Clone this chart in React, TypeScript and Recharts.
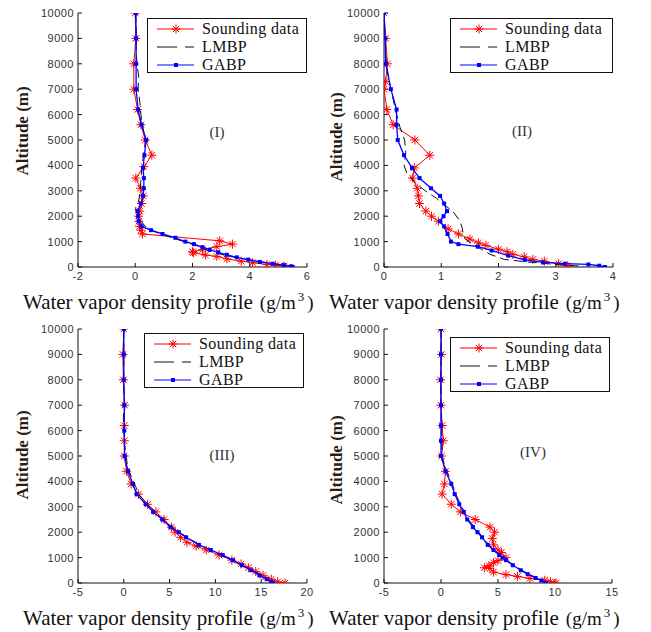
import { ScatterChart, Scatter, XAxis, YAxis, Legend } from "recharts";

// [altitude (m), water vapor density (g/m3)]
type Pt = [number, number];

const ALT_TICKS = [0, 1000, 2000, 3000, 4000, 5000, 6000, 7000, 8000, 9000, 10000];
const X_TICKS_I = [-2, 0, 2, 4, 6];
const X_TICKS_II = [0, 1, 2, 3, 4];
const X_TICKS_III = [-5, 0, 5, 10, 15, 20];
const X_TICKS_IV = [-5, 0, 5, 10, 15];

const SERIES_NAMES = ["Sounding data", "LMBP", "GABP"];
const PANEL_TAGS = ["(I)", "(II)", "(III)", "(IV)"];

const sounding1: Pt[] = [
  [10000, 0], [9000, 0.02], [8000, -0.05], [7000, -0.05], [6200, 0.08], [5600, 0.2],
  [5000, 0.35], [4400, 0.58], [3950, 0.3], [3500, 0.02], [3100, 0.18], [2800, 0.28],
  [2500, 0.22], [2200, 0.16], [2000, 0.12], [1800, 0.13], [1600, 0.15], [1450, 0.2],
  [1300, 0.25], [1030, 2.95], [900, 3.4], [800, 2.85], [680, 2.35], [600, 2.0],
  [560, 2.03], [470, 2.45], [420, 2.85], [320, 3.2], [230, 3.7], [170, 4.1],
  [100, 4.6], [70, 4.9], [40, 5.2], [0, 5.15],
];
const lmbp1: Pt[] = [
  [10000, 0.02], [9000, 0.04], [8500, 0.03], [8000, 0.06], [7500, 0.12], [7000, 0.1],
  [6500, 0.16], [6000, 0.2], [5500, 0.26], [5000, 0.36], [4500, 0.3], [4000, 0.24],
  [3500, 0.2], [3000, 0.18], [2600, 0.12], [2300, 0.0], [2100, 0.08], [1800, 0.2],
  [1600, 0.35], [1400, 0.65], [1200, 1.15], [1000, 1.7], [800, 2.25], [650, 2.5],
  [500, 3.0], [350, 3.6], [200, 4.4], [100, 5.0], [30, 5.6], [0, 5.7],
];
const gabp1: Pt[] = [
  [10000, 0.02], [9000, 0.03], [8000, 0.03], [7000, 0.03], [6200, 0.1], [5600, 0.22],
  [5000, 0.38], [4400, 0.32], [3900, 0.27], [3500, 0.3], [3100, 0.3], [2800, 0.27],
  [2500, 0.2], [2200, 0.08], [2000, 0.1], [1800, 0.12], [1600, 0.22], [1450, 0.55],
  [1300, 0.95], [1150, 1.4], [1000, 1.75], [900, 2.05], [780, 2.35], [680, 2.6],
  [580, 2.9], [480, 3.2], [380, 3.55], [290, 3.95], [200, 4.35], [130, 4.8],
  [70, 5.2], [30, 5.45], [0, 5.5],
];

const sounding2: Pt[] = [
  [10000, 0], [9000, 0.03], [8000, 0.06], [7300, 0.03], [7000, 0], [6200, 0.05],
  [5600, 0.16], [5000, 0.54], [4400, 0.8], [3900, 0.53], [3500, 0.5], [3100, 0.58],
  [2800, 0.6], [2500, 0.62], [2200, 0.73], [2000, 0.83], [1800, 0.95], [1500, 1.12],
  [1300, 1.3], [1100, 1.5], [950, 1.65], [850, 1.78], [700, 2.0], [600, 2.15],
  [500, 2.25], [400, 2.45], [300, 2.6], [230, 2.8], [130, 3.05], [50, 3.2], [0, 3.22],
];
const lmbp2: Pt[] = [
  [10000, 0], [9000, 0.02], [8000, 0.04], [7000, 0.12], [6500, 0.17], [6000, 0.22],
  [5500, 0.28], [5000, 0.36], [4500, 0.38], [4000, 0.35], [3700, 0.4], [3300, 0.55],
  [3000, 0.72], [2700, 0.92], [2400, 1.08], [2200, 1.2], [1800, 1.33], [1500, 1.37],
  [1300, 1.38], [1100, 1.42], [900, 1.55], [700, 1.7], [500, 1.85], [300, 2.1],
  [200, 2.5], [100, 3.0], [40, 3.4], [0, 3.5],
];
const gabp2: Pt[] = [
  [10000, 0], [9000, 0.02], [8000, 0.03], [7000, 0.12], [6200, 0.22], [5600, 0.22],
  [5000, 0.24], [4400, 0.35], [3900, 0.49], [3500, 0.62], [3100, 0.82], [2800, 0.98],
  [2500, 1.05], [2200, 1.1], [2000, 1.04], [1800, 0.98], [1600, 1.05], [1300, 1.11],
  [1000, 1.17], [900, 1.3], [800, 1.64], [650, 1.88], [450, 2.17], [280, 2.46],
  [180, 2.78], [130, 3.16], [100, 3.57], [50, 3.76], [0, 3.86],
];

const sounding3: Pt[] = [
  [10000, 0], [9000, -0.1], [8000, -0.05], [7000, 0.1], [6200, 0.05], [5600, 0.05],
  [5000, 0.05], [4400, 0.3], [3900, 0.8], [3500, 1.6], [3100, 2.6], [2800, 3.5],
  [2500, 4.4], [2200, 5.2], [2000, 5.6], [1800, 6.2], [1600, 6.9], [1450, 7.9],
  [1300, 9.0], [1100, 10.4], [900, 11.8], [750, 12.8], [600, 13.6], [450, 14.4],
  [300, 15.2], [150, 16.1], [50, 16.8], [0, 17.6],
];
const lmbp3: Pt[] = [
  [10000, 0], [8000, 0], [7000, 0.05], [6500, -0.05], [6000, 0], [5000, 0.2],
  [4500, 0.5], [4000, 1.0], [3800, 1.3], [3500, 1.6], [3000, 2.8], [2500, 4.2],
  [2000, 6.0], [1500, 8.3], [1000, 11.2], [500, 14.0], [200, 15.5], [0, 16.3],
];
const gabp3: Pt[] = [
  [10000, 0], [9000, 0], [8000, 0], [7000, 0.05], [6000, 0.05], [5000, 0.1],
  [4400, 0.45], [3900, 1.0], [3500, 1.4], [3100, 2.4], [2800, 3.2], [2500, 4.2],
  [2200, 5.1], [2000, 6.0], [1800, 6.8], [1500, 8.2], [1300, 9.5], [1100, 10.8],
  [900, 11.9], [700, 12.9], [500, 13.9], [300, 14.8], [150, 15.6], [50, 16.1], [0, 16.3],
];

const sounding4: Pt[] = [
  [10000, 0], [9000, 0.05], [8000, -0.05], [7000, 0], [6200, 0.1], [5600, 0.2],
  [5000, 0.05], [4400, 0.4], [3900, 0.3], [3500, 0.1], [3100, 0.9], [2800, 1.7],
  [2500, 3.0], [2200, 4.3], [2000, 4.7], [1750, 4.5], [1500, 4.6], [1300, 5.0],
  [1200, 5.3], [1000, 5.7], [880, 5.0], [800, 4.6], [680, 4.2], [600, 3.8],
  [580, 4.3], [430, 4.6], [330, 5.7], [260, 6.7], [180, 7.8], [110, 9.1],
  [50, 9.6], [0, 10.1],
];
const lmbp4: Pt[] = [
  [10000, 0], [7000, 0], [6000, 0.05], [5000, 0.1], [4500, 0.4], [4000, 0.9],
  [3500, 1.3], [3000, 1.8], [2500, 2.4], [2000, 3.3], [1500, 4.2], [1000, 5.4],
  [500, 7.1], [200, 8.3], [0, 9.2],
];
const gabp4: Pt[] = [
  [10000, 0], [9000, 0], [8000, 0], [7000, 0], [6200, 0], [5600, 0], [5000, 0],
  [4400, 0.4], [3900, 0.9], [3500, 1.2], [3100, 1.6], [2800, 2.0], [2500, 2.3],
  [2200, 2.8], [2000, 3.2], [1800, 3.6], [1500, 4.1], [1300, 4.6], [1100, 5.1],
  [1000, 5.4], [900, 5.7], [700, 6.3], [500, 7.0], [350, 7.6], [200, 8.3],
  [100, 8.8], [0, 9.2],
];

const RED = "#ff0000";
const BLUE = "#0000ff";
const SERIF = "'Liberation Serif', 'Times New Roman', serif";
const SANS = "'Liberation Sans', Arial, sans-serif";
const PLOT_H = 254;

const toRows = (pts: Pt[]) => pts.map(([alt, v]) => ({ alt, v }));

const Star = (p: any) => {
  const { cx, cy } = p;
  if (cx == null || cy == null) return <g />;
  const r = 4.5;
  const d = 3.2;
  return (
    <g stroke={RED} strokeWidth={1}>
      <line x1={cx - r} y1={cy} x2={cx + r} y2={cy} />
      <line x1={cx} y1={cy - r} x2={cx} y2={cy + r} />
      <line x1={cx - d} y1={cy - d} x2={cx + d} y2={cy + d} />
      <line x1={cx - d} y1={cy + d} x2={cx + d} y2={cy - d} />
    </g>
  );
};

const Square = (p: any) => {
  const { cx, cy } = p;
  if (cx == null || cy == null) return <g />;
  return <rect x={cx - 2} y={cy - 2} width={4} height={4} fill={BLUE} />;
};

const NoDot = () => <g />;

const LegendBox = ({ width }: { width: number }) => (
  <div
    style={{
      width,
      height: 55,
      boxSizing: "border-box",
      border: "1px solid #111",
      background: "#fff",
      fontFamily: SERIF,
      fontSize: 16,
      letterSpacing: 0.4,
      color: "#111",
      paddingTop: 1,
    }}
  >
    {SERIES_NAMES.map((name, i) => (
      <div key={name} style={{ display: "flex", alignItems: "center", height: 18, lineHeight: "18px" }}>
        <svg width={54} height={18} style={{ flex: "none" }}>
          {i === 0 && (
            <>
              <line x1={9} y1={9} x2={46} y2={9} stroke={RED} strokeWidth={1} />
              <Star cx={28} cy={9} />
            </>
          )}
          {i === 1 && (
            <line x1={9} y1={9} x2={46} y2={9} stroke="#111" strokeWidth={1} strokeDasharray="20 8 10 0" />
          )}
          {i === 2 && (
            <>
              <line x1={9} y1={9} x2={46} y2={9} stroke={BLUE} strokeWidth={1.2} />
              <Square cx={28} cy={9} />
            </>
          )}
        </svg>
        <span>{name}</span>
      </div>
    ))}
  </div>
);

type PanelProps = {
  left: number;
  top: number;
  width: number;
  height: number;
  plotLeft: number;
  plotTop: number;
  plotWidth: number;
  xDomain: [number, number];
  xTicks: number[];
  sounding: Pt[];
  lmbp: Pt[];
  gabp: Pt[];
  tag: string;
  tagX: number;
  tagY: number;
  legendLeft: number;
  legendTop: number;
  legendWidth: number;
  yLabelX: number;
  yLabelY: number;
};

function Panel(p: PanelProps) {
  const xAxisH = 30;
  const margin = {
    top: p.plotTop,
    right: p.width - p.plotLeft - p.plotWidth,
    bottom: p.height - p.plotTop - PLOT_H - xAxisH,
    left: 0,
  };
  const tickStyle = { fontSize: 11, fill: "#333", fontFamily: SANS, letterSpacing: 0.5 };
  const titleY = p.plotTop + PLOT_H + 42;
  return (
    <div style={{ position: "absolute", left: p.left, top: p.top }}>
      <ScatterChart width={p.width} height={p.height} margin={margin}>
        <XAxis
          type="number"
          dataKey="v"
          domain={p.xDomain}
          ticks={p.xTicks}
          allowDataOverflow
          height={xAxisH}
          tick={tickStyle}
          tickSize={-4}
          tickMargin={9}
          stroke="#111"
        />
        <XAxis
          xAxisId="top"
          orientation="top"
          type="number"
          domain={p.xDomain}
          ticks={p.xTicks}
          allowDataOverflow
          height={0}
          tickSize={-4}
          tickFormatter={() => ""}
          stroke="#111"
        />
        <YAxis
          type="number"
          dataKey="alt"
          domain={[0, 10000]}
          ticks={ALT_TICKS}
          allowDataOverflow
          width={p.plotLeft}
          tick={tickStyle}
          tickSize={-4}
          tickMargin={8}
          stroke="#111"
        />
        <YAxis
          yAxisId="right"
          orientation="right"
          type="number"
          domain={[0, 10000]}
          ticks={ALT_TICKS}
          allowDataOverflow
          width={0}
          tickSize={-4}
          tickFormatter={() => ""}
          stroke="#111"
        />
        <Scatter
          name={SERIES_NAMES[0]}
          data={toRows(p.sounding)}
          line={{ stroke: RED, strokeWidth: 1 }}
          shape={Star}
          isAnimationActive={false}
        />
        <Scatter
          name={SERIES_NAMES[1]}
          data={toRows(p.lmbp)}
          line={{ stroke: "#111", strokeWidth: 1, strokeDasharray: "9 5" }}
          shape={NoDot}
          isAnimationActive={false}
        />
        <Scatter
          name={SERIES_NAMES[2]}
          data={toRows(p.gabp)}
          line={{ stroke: BLUE, strokeWidth: 1.3 }}
          shape={Square}
          isAnimationActive={false}
        />
        <Legend
          layout="vertical"
          align="center"
          verticalAlign="middle"
          width={p.legendWidth}
          height={55}
          wrapperStyle={{ left: p.legendLeft, top: p.legendTop, width: p.legendWidth, height: 55 }}
          content={() => <LegendBox width={p.legendWidth} />}
        />
        <text
          x={p.yLabelX}
          y={p.yLabelY}
          transform={`rotate(-90 ${p.yLabelX} ${p.yLabelY})`}
          textAnchor="middle"
          dominantBaseline="central"
          fontFamily={SERIF}
          fontSize={17}
          fontWeight="bold"
          fill="#2a1c12"
        >
          Altitude (m)
        </text>
        <text
          x={p.tagX}
          y={p.tagY}
          textAnchor="middle"
          dominantBaseline="central"
          fontFamily={SERIF}
          fontSize={15}
          fill="#333"
        >
          {p.tag}
        </text>
        <text x={p.plotLeft - 55} y={titleY} fontFamily={SERIF} fontSize={21} fill="#111">
          Water vapor density profile
          <tspan dx={7} fontSize={19}>(g/m</tspan>
          <tspan dy={-8} dx={2} fontSize={13}>3</tspan>
          <tspan dy={8} dx={3} fontSize={19}>)</tspan>
        </text>
      </ScatterChart>
    </div>
  );
}

export default function App() {
  return (
    <div style={{ position: "absolute", left: 0, top: 0, width: 651, height: 632, background: "#fff" }}>
      <Panel
        left={0} top={0} width={325} height={315}
        plotLeft={78} plotTop={13} plotWidth={229}
        xDomain={[-2, 6]} xTicks={X_TICKS_I}
        sounding={sounding1} lmbp={lmbp1} gabp={gabp1}
        tag={PANEL_TAGS[0]} tagX={217} tagY={132}
        legendLeft={147} legendTop={18} legendWidth={160}
        yLabelX={22} yLabelY={131}
      />
      <Panel
        left={325} top={0} width={326} height={315}
        plotLeft={59} plotTop={13} plotWidth={229}
        xDomain={[0, 4]} xTicks={X_TICKS_II}
        sounding={sounding2} lmbp={lmbp2} gabp={gabp2}
        tag={PANEL_TAGS[1]} tagX={197} tagY={131}
        legendLeft={125} legendTop={18} legendWidth={163}
        yLabelX={11} yLabelY={137}
      />
      <Panel
        left={0} top={315} width={325} height={317}
        plotLeft={78} plotTop={14} plotWidth={229}
        xDomain={[-5, 20]} xTicks={X_TICKS_III}
        sounding={sounding3} lmbp={lmbp3} gabp={gabp3}
        tag={PANEL_TAGS[2]} tagX={222} tagY={140}
        legendLeft={144} legendTop={18} legendWidth={160}
        yLabelX={22} yLabelY={140}
      />
      <Panel
        left={325} top={315} width={326} height={317}
        plotLeft={59} plotTop={14} plotWidth={228}
        xDomain={[-5, 15]} xTicks={X_TICKS_IV}
        sounding={sounding4} lmbp={lmbp4} gabp={gabp4}
        tag={PANEL_TAGS[3]} tagX={208} tagY={137}
        legendLeft={125} legendTop={22} legendWidth={160}
        yLabelX={11} yLabelY={145}
      />
    </div>
  );
}
